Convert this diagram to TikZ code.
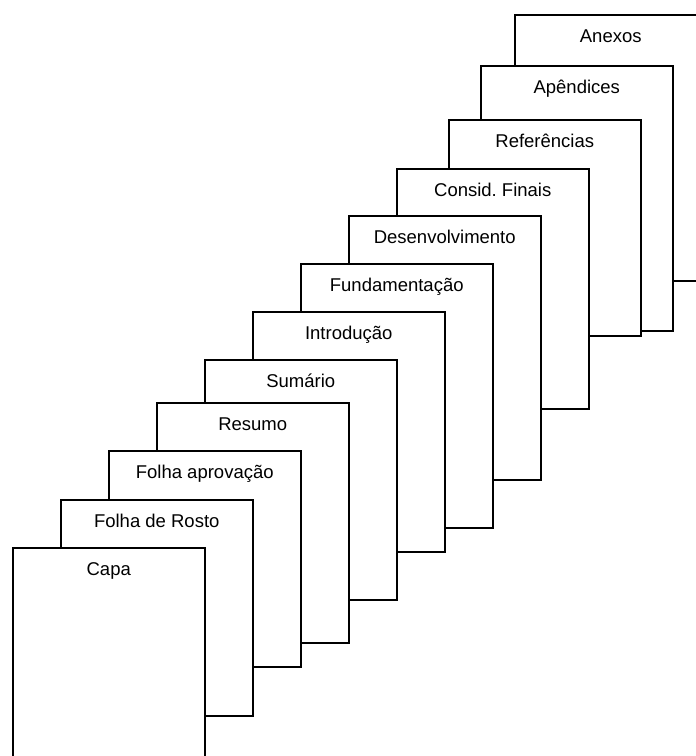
\documentclass[tikz,border=0pt]{standalone}
\usepackage{fontspec}
\setmainfont{Liberation Sans}
\begin{document}
\begin{tikzpicture}[x=1pt,y=-1pt,
  pagebox/.style={draw=black, line width=1.5pt, fill=white, rectangle, inner sep=0pt,
    anchor=north west, minimum width=192pt},
  lbl/.style={anchor=base, yshift=-28pt, inner sep=0pt, font=\fontsize{18.5}{20}\selectfont}]
\useasboundingbox (0,0) rectangle (696,756);
\clip (0,0) rectangle (696,756);
\node[pagebox, minimum height=266pt, label={[lbl]north:Anexos}] (anexos) at (514,14) {};
\node[pagebox, minimum height=265pt, label={[lbl]north:Apêndices}] (apendices) at (480,65) {};
\node[pagebox, minimum height=216pt, label={[lbl]north:Referências}] (referencias) at (448,119) {};
\node[pagebox, minimum height=240pt, label={[lbl]north:Consid.\ Finais}] (consid) at (396,168) {};
\node[pagebox, minimum height=264pt, label={[lbl]north:Desenvolvimento}] (desenv) at (348,215) {};
\node[pagebox, minimum height=264pt, label={[lbl]north:Fundamentação}] (fundam) at (300,263) {};
\node[pagebox, minimum height=240pt, label={[lbl]north:Introdução}] (intro) at (252,311) {};
\node[pagebox, minimum height=240pt, label={[lbl]north:Sumário}] (sumario) at (204,359) {};
\node[pagebox, minimum height=240pt, label={[lbl]north:Resumo}] (resumo) at (156,402) {};
\node[pagebox, minimum height=216pt, label={[lbl]north:Folha aprovação}] (aprov) at (108,450) {};
\node[pagebox, minimum height=216pt, label={[lbl]north:Folha de Rosto}] (rosto) at (60,499) {};
\node[pagebox, minimum height=240pt, label={[lbl]north:Capa}] (capa) at (12,547) {};
\end{tikzpicture}
\end{document}
